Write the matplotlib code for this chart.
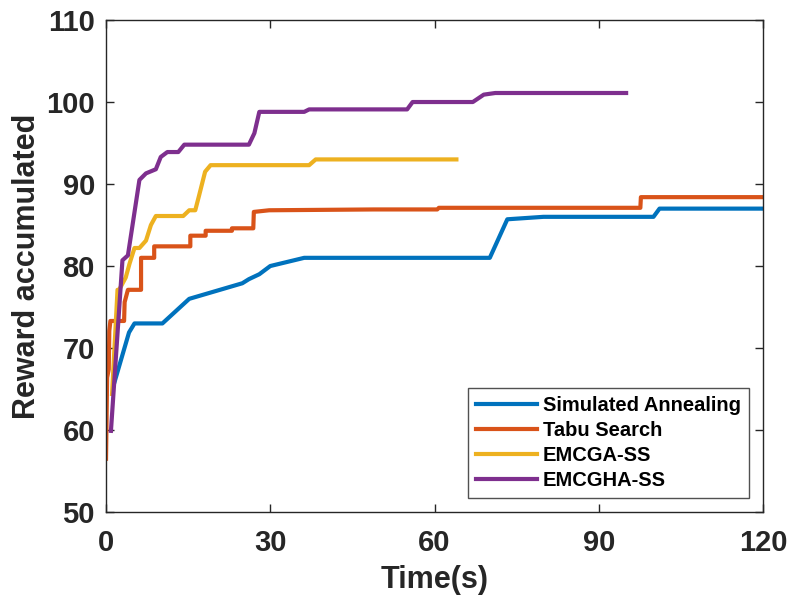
import matplotlib.pyplot as plt

plt.rcParams['font.family'] = ['Liberation Sans', 'DejaVu Sans']
plt.rcParams['font.weight'] = 'bold'

# time (s) / accumulated reward for each search method
sa_t = [1.4, 4.2, 5.2, 10.3, 15.2, 24.9, 26.1, 28.0, 30.0, 36.2, 70.1, 73.3, 79.9, 100.0, 101.1, 120.0]
sa_r = [65.5, 71.9, 73.0, 73.0, 76.0, 77.9, 78.4, 79.0, 80.0, 81.0, 81.0, 85.7, 86.0, 86.0, 87.0, 87.0]

ts_t = [0.0, 0.2, 0.5, 0.6, 0.8, 3.3, 3.4, 3.8, 4.0, 6.4, 6.4, 8.8, 8.8, 15.4, 15.4, 18.2, 18.2,
        23.0, 23.0, 26.9, 27.0, 29.8, 48.9, 60.5, 60.8, 97.6, 97.7, 120.0]
ts_r = [56.5, 66.4, 67.4, 72.1, 73.3, 73.3, 75.6, 76.6, 77.1, 77.1, 81.0, 81.0, 82.4, 82.4, 83.7, 83.7, 84.3,
        84.3, 84.6, 84.6, 86.6, 86.8, 86.9, 86.9, 87.1, 87.1, 88.4, 88.4]

ga_t = [1.1, 2.1, 2.4, 3.6, 4.3, 5.2, 6.1, 7.3, 8.2, 9.1, 14.1, 15.2, 16.3, 17.0, 18.1, 19.1, 37.1, 38.3, 64.0]
ga_r = [64.4, 77.1, 77.1, 78.6, 80.3, 82.2, 82.2, 83.1, 85.0, 86.1, 86.1, 86.8, 86.8, 88.6, 91.5, 92.3, 92.3, 93.0, 93.0]

gha_t = [0.9, 3.0, 4.0, 6.1, 7.3, 9.1, 10.0, 11.2, 13.2, 14.3, 26.1, 27.1, 28.0, 36.2, 37.1, 55.0, 56.0,
         67.0, 69.0, 71.1, 95.0]
gha_r = [59.9, 80.7, 81.3, 90.5, 91.3, 91.8, 93.3, 93.9, 93.9, 94.8, 94.8, 96.2, 98.8, 98.8, 99.1, 99.1, 100.0,
         100.0, 100.9, 101.1, 101.1]

labels = ['Simulated Annealing', 'Tabu Search', 'EMCGA-SS', 'EMCGHA-SS']
colors = ['#0072BD', '#D95319', '#EDB120', '#7E2F8E']

fig = plt.figure(figsize=(7.9, 6.01), dpi=100)
ax = fig.add_axes([0.1342, 0.148, 0.8316, 0.8187])

series = [(sa_t, sa_r), (ts_t, ts_r), (ga_t, ga_r), (gha_t, gha_r)]
for (t, r), lab, c in zip(series, labels, colors):
    ax.plot(t, r, '-', color=c, linewidth=3, label=lab)

ax.set_xlim(0, 120)
ax.set_ylim(50, 110)
ax.set_xticks([0, 30, 60, 90, 120])
ax.set_yticks(range(50, 111, 10))
ax.tick_params(direction='in', top=True, right=True, length=6, width=1,
               color='#262626', labelsize=21, labelcolor='#262626')
ax.tick_params(axis='x', pad=12)
ax.tick_params(axis='y', pad=8)
for s in ax.spines.values():
    s.set_color('#262626')
    s.set_linewidth(1)

ax.set_xlabel('Time(s)', fontsize=22, fontweight='bold', labelpad=6, color='#262626')
ax.set_ylabel('Reward accumulated', fontsize=22, fontweight='bold', labelpad=3, color='#262626')

leg = ax.legend(loc='lower right', fontsize=14.5, frameon=True, fancybox=False,
                edgecolor='#262626', handlelength=3.0, handletextpad=0.3, borderpad=0.4,
                labelspacing=0.3, borderaxespad=0.7)
leg.get_frame().set_linewidth(1)

fig.savefig('out.png', dpi=100)
